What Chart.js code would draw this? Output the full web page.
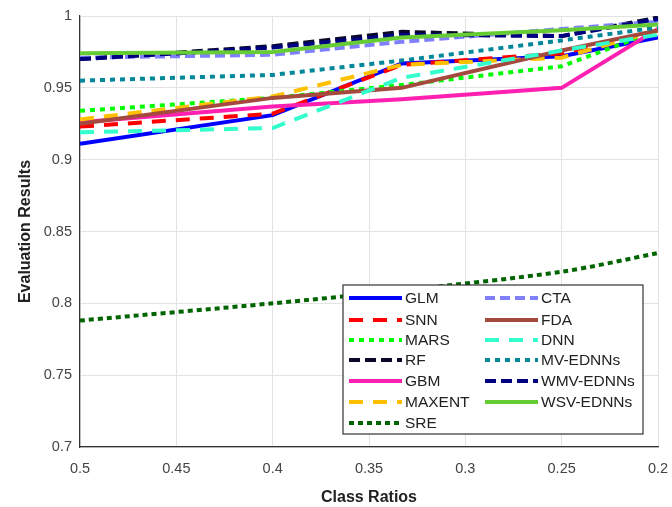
<!DOCTYPE html>
<html><head><meta charset="utf-8">
<script src="https://cdn.jsdelivr.net/npm/chart.js@4"></script>
<style>html,body{margin:0;padding:0;background:#fff}#wrap{width:672px;height:507px}</style>
</head><body><div id="wrap"><canvas id="c" width="672" height="507"></canvas></div>
<script>
const classRatios = [0.5, 0.4, 0.333, 0.25, 0.2];
const xTicks = [0.5, 0.45, 0.4, 0.35, 0.3, 0.25, 0.2];
const yTicks = [0.7, 0.75, 0.8, 0.85, 0.9, 0.95, 1];
const seriesNames = ["GLM","SNN","MARS","RF","GBM","MAXENT","SRE","CTA","FDA","DNN","MV-EDNNs","WMV-EDNNs","WSV-EDNNs"];
const GLM    = [0.911, 0.931, 0.967, 0.972, 0.985];
const SNN    = [0.923, 0.932, 0.966, 0.974, 0.990];
const MARS   = [0.934, 0.943, 0.952, 0.965, 0.990];
const RF     = [0.970, 0.979, 0.989, 0.986, 0.999];
const GBM    = [0.926, 0.937, 0.942, 0.950, 0.991];
const MAXENT = [0.928, 0.944, 0.966, 0.971, 0.990];
const SRE    = [0.788, 0.800, 0.809, 0.822, 0.835];
const CTA    = [0.971, 0.973, 0.982, 0.991, 0.996];
const FDA    = [0.925, 0.943, 0.950, 0.976, 0.990];
const DNN    = [0.919, 0.922, 0.957, 0.976, 0.987];
const MV     = [0.955, 0.959, 0.969, 0.983, 0.992];
const WMV    = [0.970, 0.978, 0.987, 0.986, 0.998];
const WSV    = [0.974, 0.975, 0.985, 0.990, 0.994];
const seriesValues = [GLM,SNN,MARS,RF,GBM,MAXENT,SRE,CTA,FDA,DNN,MV,WMV,WSV];

const styles = [
  {c:'#0000ff', d:[]},
  {c:'#ff0000', d:[14,10]},
  {c:'#00ff00', d:[5,5]},
  {c:'#0a0a28', d:[11,5]},
  {c:'#ff1fb0', d:[]},
  {c:'#ffc000', d:[14,10]},
  {c:'#006400', d:[5,4]},
  {c:'#8080ff', d:[10,5]},
  {c:'#a5493f', d:[]},
  {c:'#33ffcc', d:[14,10]},
  {c:'#00889a', d:[5,5]},
  {c:'#000080', d:[11,5]},
  {c:'#66cc33', d:[]}
];

const datasets = seriesNames.map((n,i)=>({
  label:n,
  data: classRatios.map((x,k)=>({x:x, y:seriesValues[i][k]})),
  borderColor: styles[i].c,
  backgroundColor: styles[i].c,
  borderDash: styles[i].d,
  borderWidth: 4,
  borderCapStyle: 'butt',
  pointRadius: 0,
  tension: i===6 ? 0.3 : 0,
  fill:false,
  order: -i
}));

const legendPlugin = {
  id:'boxLegend',
  afterDraw(chart){
    const ctx = chart.ctx;
    const bx=343, by=285, bw=300, bh=149;
    ctx.save();
    ctx.fillStyle='#fff';
    ctx.fillRect(bx,by,bw,bh);
    ctx.strokeStyle='#333';
    ctx.lineWidth=1.2;
    ctx.strokeRect(bx,by,bw,bh);
    const rows=[298,320,340,360,381,402,423];
    ctx.font='15.5px "Liberation Sans", Arial, sans-serif';
    ctx.textBaseline='middle';
    chart.data.datasets.forEach((ds,i)=>{
      const col = i<7 ? 0 : 1;
      const row = i<7 ? i : i-7;
      const x0 = col===0 ? 349 : 485;
      const y = rows[row];
      ctx.strokeStyle = ds.borderColor;
      ctx.lineWidth = 4;
      ctx.setLineDash(ds.borderDash);
      ctx.lineCap='butt';
      ctx.beginPath(); ctx.moveTo(x0,y); ctx.lineTo(x0+53,y); ctx.stroke();
      ctx.setLineDash([]);
      ctx.fillStyle='#222';
      ctx.fillText(ds.label, x0+56, y+1);
    });
    ctx.restore();
  }
};

new Chart(document.getElementById('c'), {
  type:'line',
  data:{datasets},
  plugins:[legendPlugin],
  options:{
    responsive:false, animation:false,
    layout:{padding:{top:16,right:14,left:0,bottom:0}},
    plugins:{legend:{display:false}, tooltip:{enabled:false}},
    scales:{
      x:{
        type:'linear', reverse:true, min:0.2, max:0.5,
        afterBuildTicks(s){ s.ticks = xTicks.map(v=>({value:v})); },
        afterFit(s){ s.height = 60; s.paddingLeft = 0; s.paddingRight = 0; },
        ticks:{ color:'#444', font:{family:'"Liberation Sans", Arial, sans-serif', size:14.5}, padding:13, maxRotation:0,
          callback:(v)=>String(parseFloat(v.toFixed(2))) },
        grid:{ color:'#e2e2e2', lineWidth:1, drawTicks:false },
        border:{ color:'#333', width:1.2 },
        title:{ display:true, text:'Class Ratios', color:'#222', font:{family:'"Liberation Sans", Arial, sans-serif', size:16, weight:'bold'}, padding:{top:3,bottom:0} }
      },
      y:{
        type:'linear', min:0.7, max:1,
        afterBuildTicks(s){ s.ticks = yTicks.map(v=>({value:v})); },
        afterFit(s){ s.width = 80; s.paddingTop = 0; s.paddingBottom = 0; },
        ticks:{ color:'#444', font:{family:'"Liberation Sans", Arial, sans-serif', size:14.5}, padding:8,
          callback:(v)=>String(parseFloat(v.toFixed(2))) },
        grid:{ color:'#e2e2e2', lineWidth:1, drawTicks:false },
        border:{ color:'#333', width:1.2 },
        title:{ display:true, text:'Evaluation Results', color:'#222', font:{family:'"Liberation Sans", Arial, sans-serif', size:16, weight:'bold'}, padding:{top:16,bottom:4} }
      }
    }
  }
});
</script></body></html>
